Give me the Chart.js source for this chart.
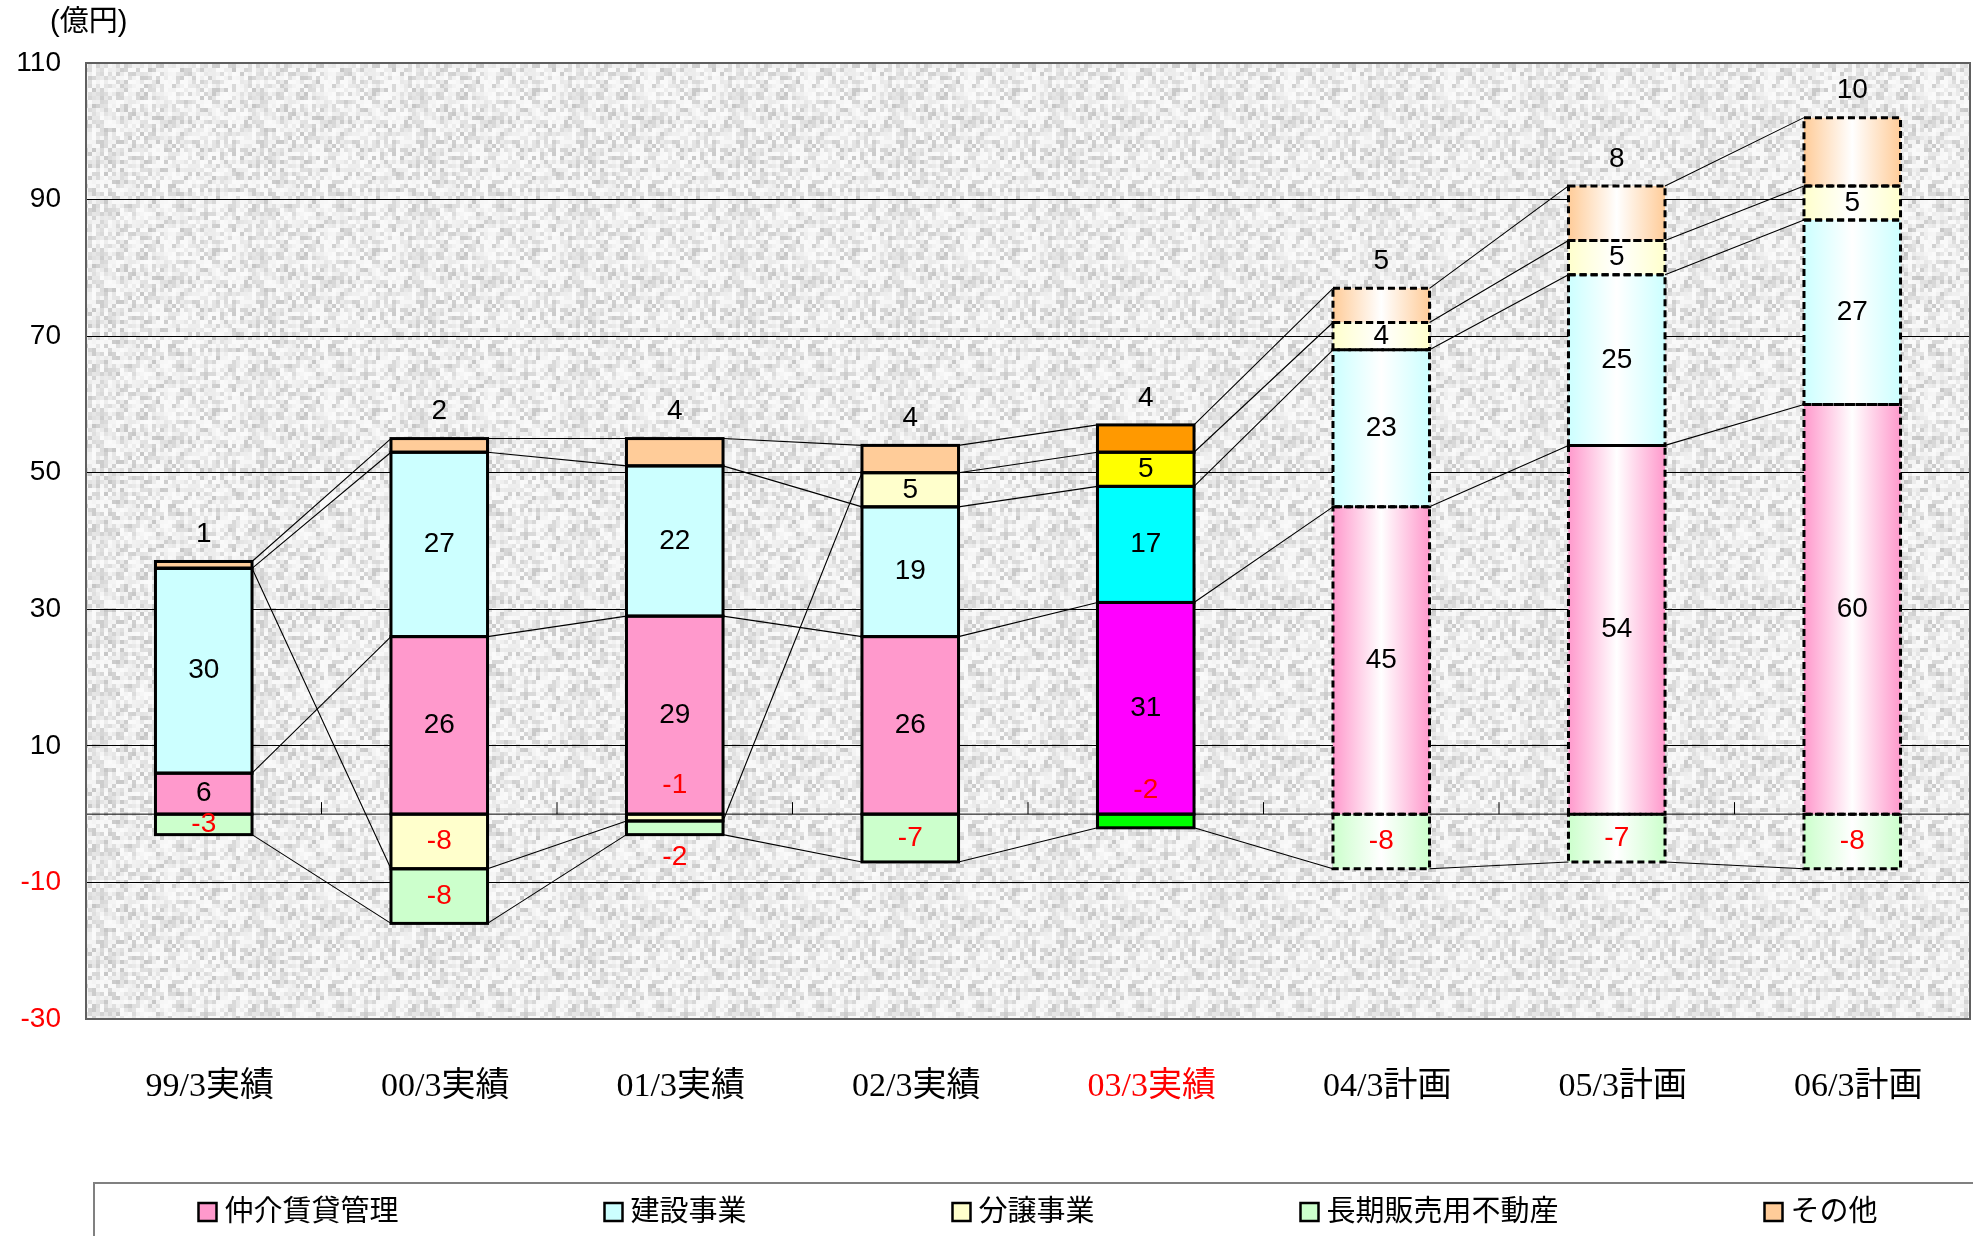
<!DOCTYPE html>
<html lang="ja">
<head>
<meta charset="UTF-8">
<title>セグメント別推移</title>
<script src="https://cdn.jsdelivr.net/npm/chart.js@4.4.1/dist/chart.umd.min.js"></script>
<style>
    html, body { margin: 0; padding: 0; background: #ffffff; }
    canvas { display: block; }
</style>
</head>
<body>
<canvas id="segmentChart" width="1973" height="1236"></canvas>
<script>

// ======================
// DATA
// ======================

const categories = [
    "99/3実績", "00/3実績", "01/3実績", "02/3実績",
    "03/3実績", "04/3計画", "05/3計画", "06/3計画"
];

const seriesNames = ["仲介賃貸管理", "建設事業", "分譲事業", "長期販売用不動産", "その他"];

const brokerage        = [6, 26, 29, 26, 31, 45, 54, 60];
const construction     = [30, 27, 22, 19, 17, 23, 25, 27];
const condoSales       = [0, -8, -1, 5, 5, 4, 5, 5];
const longTermProperty = [-3, -8, -2, -7, -2, -8, -7, -8];
const others           = [1, 2, 4, 4, 4, 5, 8, 10];

const yTicks = [-30, -10, 10, 30, 50, 70, 90, 110];

const unitLabel = "(億円)";


// ======================
// STYLE
// ======================

const paleColors  = ["#FF99CC", "#CCFFFF", "#FFFFCC", "#CCFFCC", "#FFCC99"];
const vividColors = ["#FF00FF", "#00FFFF", "#FFFF00", "#00FF00", "#FF9900"];

const BAR_SHARE = 0.41;
const RED = "#FF0000";

const NUM_FONT = "28px 'Liberation Sans', Arial, sans-serif";
const JP_FONT = "'Liberation Sans', 'Noto Sans CJK JP', sans-serif";

// labels of thin segments sit off their bar, nudged in pixels
const labelNudge = {
    "分譲事業|01/3実績": -32,
    "長期販売用不動産|01/3実績": 29,
    "長期販売用不動産|03/3実績": -31
};

const latestActual =
    categories.map(c => c.endsWith("実績")).lastIndexOf(true);

function barKind(i) {
    if (categories[i] === undefined) return "actual";
    if (categories[i].endsWith("計画")) return "plan";
    return i === latestActual ? "latest" : "actual";
}


// ======================
// BAR FILL
// ======================

function barFill(s) {

    return (ctx) => {

        const kind = barKind(ctx.dataIndex);

        if (kind === "latest") return vividColors[s];
        if (kind === "actual") return paleColors[s];

        const x = ctx.chart.scales.x;
        if (!x || !x.width) return paleColors[s];

        const center = x.getPixelForValue(ctx.dataIndex);
        const half = x.width / categories.length * BAR_SHARE / 2;

        const g = ctx.chart.ctx.createLinearGradient(center - half, 0, center + half, 0);
        g.addColorStop(0, paleColors[s]);
        g.addColorStop(0.5, "#FFFFFF");
        g.addColorStop(1, paleColors[s]);
        return g;
    };
}


// ======================
// PLOT BACKGROUND
// ======================

function granitePattern(ctx) {

    const tile = document.createElement("canvas");
    tile.width = 160;
    tile.height = 160;
    const t = tile.getContext("2d");

    for (let j = 0; j < 40; j++) {
        for (let i = 0; i < 40; i++) {
            const h = Math.abs(Math.sin(i * 12.9898 + j * 78.233) * 43758.5453) % 1;
            const v = Math.round(250 - h * h * 52);
            t.fillStyle = `rgb(${v},${v},${v})`;
            t.fillRect(i * 4, j * 4, 4, 4);
        }
    }

    return ctx.createPattern(tile, "repeat");
}

const plotFrame = {

    id: "plotFrame",

    beforeDraw(chart) {
        const {ctx, chartArea: a} = chart;
        ctx.save();
        ctx.fillStyle = granitePattern(ctx);
        ctx.fillRect(a.left, a.top, a.right - a.left, a.bottom - a.top);

        // unit caption above the value axis
        ctx.fillStyle = "#000";
        ctx.font = "29px " + JP_FONT;
        ctx.textBaseline = "middle";
        ctx.textAlign = "left";
        ctx.fillText(unitLabel, a.left - 36, a.top - 40);
        ctx.restore();
    },

    beforeDatasetsDraw(chart) {
        const {ctx, chartArea: a, scales: {x, y}} = chart;
        const y0 = y.getPixelForValue(0);

        ctx.save();
        ctx.strokeStyle = "#000";
        ctx.lineWidth = 1.5;
        ctx.beginPath();
        ctx.moveTo(a.left, y0);
        ctx.lineTo(a.right, y0);

        // category boundary ticks on the zero line
        ctx.lineWidth = 1;
        for (let k = 1; k < categories.length; k++) {
            const bx = (x.getPixelForValue(k - 1) + x.getPixelForValue(k)) / 2;
            ctx.moveTo(bx, y0);
            ctx.lineTo(bx, y0 - 12);
        }
        ctx.stroke();
        ctx.restore();
    },

    afterDraw(chart) {
        const {ctx, chartArea: a} = chart;
        ctx.save();
        ctx.strokeStyle = "#606060";
        ctx.lineWidth = 2;
        ctx.strokeRect(a.left, a.top, a.right - a.left, a.bottom - a.top);
        ctx.restore();
    }
};


// ======================
// OUTLINES, SERIES LINES, VALUE LABELS
// ======================

const stackDecor = {

    id: "stackDecor",

    afterDatasetsDraw(chart) {

        const ctx = chart.ctx;
        const sets = chart.data.datasets;

        ctx.save();

        // series lines between neighbouring bars
        ctx.strokeStyle = "#000";
        ctx.lineWidth = 1.1;
        ctx.setLineDash([]);
        sets.forEach((ds, s) => {
            const bars = chart.getDatasetMeta(s).data;
            ctx.beginPath();
            for (let i = 0; i < bars.length - 1; i++) {
                const a = bars[i];
                const b = bars[i + 1];
                ctx.moveTo(a.x + a.width / 2, a.y);
                ctx.lineTo(b.x - b.width / 2, b.y);
            }
            ctx.stroke();
        });

        // segment outlines, dashed for plans
        sets.forEach((ds, s) => {
            chart.getDatasetMeta(s).data.forEach((bar, i) => {
                const plan = barKind(i) === "plan";
                ctx.lineWidth = 3;
                ctx.setLineDash(plan ? [7, 4] : []);
                const top = Math.min(bar.y, bar.base);
                ctx.strokeRect(bar.x - bar.width / 2, top, bar.width, Math.abs(bar.base - bar.y));
            });
        });
        ctx.setLineDash([]);

        // value labels
        ctx.font = NUM_FONT;
        ctx.textAlign = "center";
        ctx.textBaseline = "middle";
        const last = sets.length - 1;

        sets.forEach((ds, s) => {
            chart.getDatasetMeta(s).data.forEach((bar, i) => {
                const v = ds.data[i];
                if (v === 0) return;

                let ly = (bar.y + bar.base) / 2;
                if (s === last) ly = Math.min(bar.y, bar.base) - 27;
                ly += labelNudge[ds.label + "|" + categories[i]] || 0;

                ctx.fillStyle = v < 0 ? RED : "#000";
                ctx.fillText(String(v), bar.x, ly);
            });
        });

        ctx.restore();
    }
};


// ======================
// LEGEND
// ======================

const boxedLegend = {

    id: "boxedLegend",

    afterDraw(chart) {

        const {ctx, chartArea: a} = chart;
        const top = chart.height - 53;
        const rowY = top + 29;
        const box = 18;
        const gap = 8;
        const spacing = 206;

        ctx.save();
        ctx.strokeStyle = "#808080";
        ctx.lineWidth = 2;
        ctx.strokeRect(a.left + 8, top, chart.width, 80);

        ctx.font = "29px " + JP_FONT;
        const widths = seriesNames.map(n => box + gap + ctx.measureText(n).width);
        const total = widths.reduce((p, w) => p + w, 0) + spacing * (seriesNames.length - 1);
        let x = (a.left + a.right) / 2 + 10 - total / 2;

        seriesNames.forEach((name, s) => {
            ctx.fillStyle = paleColors[s];
            ctx.fillRect(x, rowY - box / 2, box, box);
            ctx.strokeStyle = "#000";
            ctx.lineWidth = 2.5;
            ctx.strokeRect(x, rowY - box / 2, box, box);

            ctx.fillStyle = "#000";
            ctx.textAlign = "left";
            ctx.textBaseline = "middle";
            ctx.fillText(name, x + box + gap, rowY + 1);

            x += widths[s] + spacing;
        });

        ctx.restore();
    }
};


// ======================
// CHART
// ======================

const seriesValues = [brokerage, construction, condoSales, longTermProperty, others];

new Chart(
    document.getElementById("segmentChart"),
    {
        type: "bar",

        data: {

            labels: categories,

            datasets: seriesNames.map((name, s) => ({
                label: name,
                data: seriesValues[s],
                backgroundColor: barFill(s),
                borderWidth: 0,
                categoryPercentage: BAR_SHARE,
                barPercentage: 1
            }))
        },

        options: {

            responsive: false,
            animation: false,

            layout: {
                padding: {top: 63, right: 3, left: 0, bottom: 0}
            },

            plugins: {
                legend: {display: false},
                tooltip: {enabled: false}
            },

            scales: {

                x: {
                    stacked: true,
                    grid: {display: false},
                    border: {display: false},
                    ticks: {
                        padding: 40,
                        labelOffset: 6,
                        maxRotation: 0,
                        autoSkip: false,
                        font: {size: 34, family: "'Liberation Serif', 'Noto Sans CJK JP', serif"},
                        color: c => c.index === latestActual ? RED : "#000"
                    },
                    afterFit: scale => { scale.height = 217; }
                },

                y: {
                    stacked: true,
                    min: yTicks[0],
                    max: yTicks[yTicks.length - 1],
                    grid: {
                        color: "#000",
                        lineWidth: 1,
                        drawTicks: false
                    },
                    border: {display: false},
                    ticks: {
                        stepSize: yTicks[1] - yTicks[0],
                        padding: 25,
                        font: {size: 28, family: "'Liberation Sans', Arial, sans-serif"},
                        color: c => c.tick.value < 0 ? RED : "#000"
                    },
                    afterFit: scale => { scale.width = 86; }
                }
            }
        },

        plugins: [plotFrame, stackDecor, boxedLegend]
    }
);

</script>
</body>
</html>
